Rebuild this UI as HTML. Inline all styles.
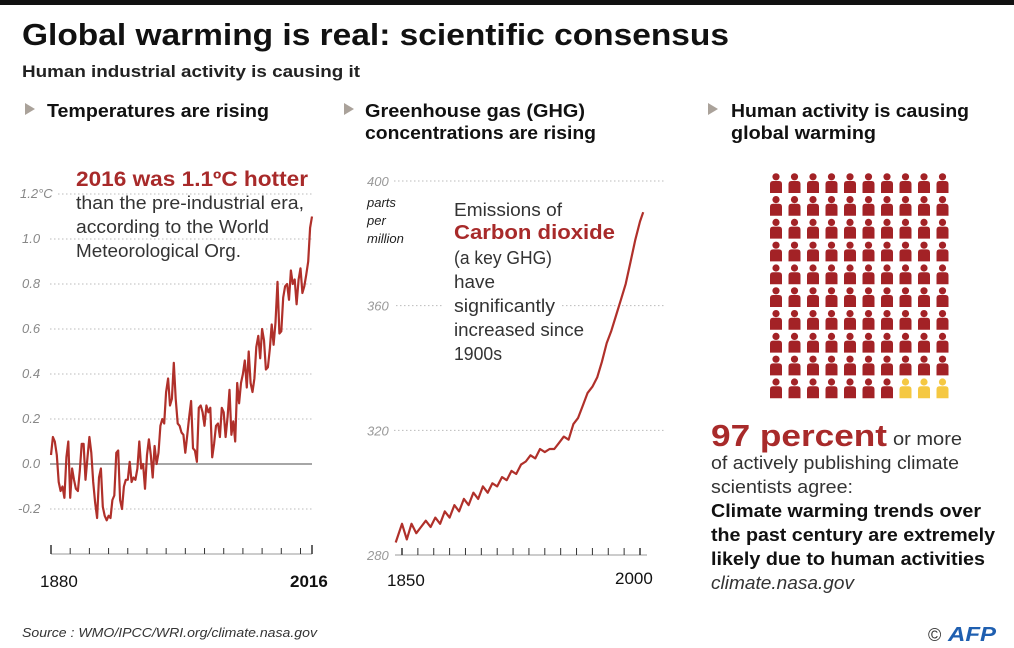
<!DOCTYPE html>
<html><head><meta charset="utf-8"><style>
html,body{margin:0;padding:0;background:#fff;}
svg{display:block;font-family:"Liberation Sans",sans-serif;}
</style></head><body>
<svg id="root" width="1014" height="648" viewBox="0 0 1014 648" xmlns="http://www.w3.org/2000/svg">
<rect x="0" y="0" width="1014" height="5" fill="#111"/>
<text x="22" y="45" font-size="31" font-weight="bold" fill="#111" textLength="707" lengthAdjust="spacingAndGlyphs">Global warming is real: scientific consensus</text>
<text x="22" y="77" font-size="17" font-weight="bold" fill="#222" textLength="338" lengthAdjust="spacingAndGlyphs">Human industrial activity is causing it</text>

<g>
<polygon points="25,103 35,109 25,115" fill="#aaa29a"/>
<text x="47" y="117" font-size="18" font-weight="bold" fill="#111" textLength="222" lengthAdjust="spacingAndGlyphs">Temperatures are rising</text>
</g>
<g>
<polygon points="344,103 354,109 344,115" fill="#aaa29a"/>
<text x="365" y="117" font-size="18" font-weight="bold" fill="#111" textLength="220" lengthAdjust="spacingAndGlyphs">Greenhouse gas (GHG)</text>
<text x="365" y="139" font-size="18" font-weight="bold" fill="#111" textLength="231" lengthAdjust="spacingAndGlyphs">concentrations are rising</text>
</g>
<g>
<polygon points="708,103 718,109 708,115" fill="#aaa29a"/>
<text x="731" y="117" font-size="18" font-weight="bold" fill="#111" textLength="238" lengthAdjust="spacingAndGlyphs">Human activity is causing</text>
<text x="731" y="139" font-size="18" font-weight="bold" fill="#111" textLength="145" lengthAdjust="spacingAndGlyphs">global warming</text>
</g>

<g id="tchart"></g>
<g id="cchart"></g>
<g id="icons"></g>

<g>
<text x="76" y="186" font-size="21" font-weight="bold" fill="#a82a2a" textLength="232" lengthAdjust="spacingAndGlyphs">2016 was 1.1ºC hotter</text>
<text x="76" y="209" font-size="18" fill="#333" textLength="228" lengthAdjust="spacingAndGlyphs">than the pre-industrial era,</text>
<text x="76" y="233" font-size="18" fill="#333" textLength="193" lengthAdjust="spacingAndGlyphs">according to the World</text>
<text x="76" y="257" font-size="18" fill="#333" textLength="165" lengthAdjust="spacingAndGlyphs">Meteorological Org.</text>
</g>
<g>
<text x="454" y="216" font-size="18" fill="#333" textLength="108" lengthAdjust="spacingAndGlyphs">Emissions of</text>
<text x="454" y="239" font-size="20" font-weight="bold" fill="#a82a2a" textLength="161" lengthAdjust="spacingAndGlyphs">Carbon dioxide</text>
<text x="454" y="264" font-size="18" fill="#333" textLength="98" lengthAdjust="spacingAndGlyphs">(a key GHG)</text>
<text x="454" y="288" font-size="18" fill="#333" textLength="41" lengthAdjust="spacingAndGlyphs">have</text>
<text x="454" y="312" font-size="18" fill="#333" textLength="101" lengthAdjust="spacingAndGlyphs">significantly</text>
<text x="454" y="336" font-size="18" fill="#333" textLength="130" lengthAdjust="spacingAndGlyphs">increased since</text>
<text x="454" y="360" font-size="18" fill="#333" textLength="48" lengthAdjust="spacingAndGlyphs">1900s</text>
</g>
<g font-style="italic" font-size="13" fill="#222">
<text x="367" y="207">parts</text>
<text x="367" y="225">per</text>
<text x="367" y="243">million</text>
</g>

<g>
<text x="711" y="446" font-size="31" font-weight="bold" fill="#a82a2a" textLength="176" lengthAdjust="spacingAndGlyphs">97 percent</text>
<text x="893" y="445" font-size="18" fill="#333" textLength="69" lengthAdjust="spacingAndGlyphs">or more</text>
<text x="711" y="469" font-size="18" fill="#333" textLength="248" lengthAdjust="spacingAndGlyphs">of actively publishing climate</text>
<text x="711" y="493" font-size="18" fill="#333" textLength="142" lengthAdjust="spacingAndGlyphs">scientists agree:</text>
<text x="711" y="517" font-size="18" font-weight="bold" fill="#111" textLength="270" lengthAdjust="spacingAndGlyphs">Climate warming trends over</text>
<text x="711" y="541" font-size="18" font-weight="bold" fill="#111" textLength="284" lengthAdjust="spacingAndGlyphs">the past century are extremely</text>
<text x="711" y="565" font-size="18" font-weight="bold" fill="#111" textLength="274" lengthAdjust="spacingAndGlyphs">likely due to human activities</text>
<text x="711" y="589" font-size="18" font-style="italic" fill="#333" textLength="143" lengthAdjust="spacingAndGlyphs">climate.nasa.gov</text>
</g>
<text x="22" y="637" font-size="13" font-style="italic" fill="#333" textLength="295" lengthAdjust="spacingAndGlyphs">Source : WMO/IPCC/WRI.org/climate.nasa.gov</text>
<g>
<text x="928" y="641" font-size="18" fill="#333">©</text>
<text x="948" y="641" font-size="20" font-weight="bold" font-style="italic" fill="#1f5fb0" textLength="48" lengthAdjust="spacingAndGlyphs">AFP</text>
</g>
</svg>
<script>
const NS="http://www.w3.org/2000/svg";
const tYears0=1880;
const tempValues=[0.04,0.12,0.10,0.04,-0.08,-0.12,-0.10,-0.15,0.03,0.10,-0.15,-0.02,-0.07,-0.11,-0.12,-0.03,0.09,0.09,-0.07,0.03,0.12,0.05,-0.08,-0.17,-0.24,-0.06,-0.02,-0.19,-0.23,-0.25,-0.23,-0.24,-0.16,-0.14,0.05,0.06,-0.16,-0.20,-0.10,-0.07,-0.07,0.01,-0.08,-0.06,-0.07,-0.02,0.10,-0.02,0.00,-0.11,0.04,0.11,0.04,-0.06,0.08,0.00,0.05,0.17,0.20,0.18,0.32,0.38,0.26,0.29,0.45,0.29,0.18,0.17,0.14,0.13,0.05,0.13,0.21,0.28,0.07,0.06,0.01,0.25,0.26,0.23,0.17,0.26,0.23,0.25,0.03,0.09,0.17,0.18,0.12,0.25,0.23,0.12,0.21,0.33,0.13,0.19,0.10,0.36,0.27,0.36,0.40,0.46,0.34,0.50,0.36,0.32,0.38,0.52,0.57,0.47,0.60,0.55,0.42,0.43,0.51,0.62,0.53,0.63,0.81,0.58,0.59,0.74,0.79,0.80,0.73,0.86,0.80,0.82,0.71,0.82,0.87,0.76,0.79,0.84,0.90,1.05,1.10];
const tTicks=[-0.2,0.0,0.2,0.4,0.6,0.8,1.0,1.2];
const tTickLabels=["-0.2","0.0","0.2","0.4","0.6","0.8","1.0","1.2°C"];
const co2Years=[1846,1850,1853,1856,1859,1862,1865,1868,1871,1874,1877,1880,1883,1886,1889,1892,1895,1898,1901,1904,1907,1910,1913,1916,1919,1922,1925,1928,1931,1934,1937,1940,1943,1946,1949,1952,1955,1958,1961,1964,1967,1970,1973,1976,1979,1982,1985,1988,1991,1994,1997,2000,2002];
const co2Values=[284,290,285,290,287,289,291,289,292,290,294,292,296,294,298,296,300,298,302,300,303,302,305,304,307,306,309,310,312,311,314,313,314,314,316,318,317,322,324,328,332,334,337,342,348,352,357,362,367,374,381,387,390];
const cTicks=[280,320,360,400];
const cTickLabels=["280","320","360","400"];

function mk(tag,attrs,parent){const e=document.createElementNS(NS,tag);for(const k in attrs)e.setAttribute(k,attrs[k]);parent.appendChild(e);return e;}

// Temperature chart
const tg=document.getElementById('tchart');
const tx=y=>51+(y-1880)*(261/136);
const ty=v=>464-v*225;
tTicks.forEach((v,i)=>{
  const lab=mk('text',{x:tTicks[i]===1.2?20:(v<0?18:22),y:ty(v)+4,'font-size':13,'font-style':'italic',fill:'#888'},tg);
  lab.textContent=tTickLabels[i];
  
  
  if(v!==0){const l=mk('line',{x1:v===1.2?58:50,x2:312,y1:ty(v),y2:ty(v),stroke:'#bbb','stroke-dasharray':'1.5 2.5'},tg);
  
  }
});
const zl=mk('line',{x1:50,x2:312,y1:ty(0),y2:ty(0),stroke:'#888','stroke-width':1.5},tg);


const tax=mk('line',{x1:51,x2:312,y1:554,y2:554,stroke:'#999','stroke-width':1},tg);


for(let y=1880;y<=2010;y+=10){const t=mk('line',{x1:tx(y),x2:tx(y),y1:y===1880?545:548,y2:554,stroke:'#333','stroke-width':y===1880?1.5:1},tg);

}
const te=mk('line',{x1:tx(2016),x2:tx(2016),y1:545,y2:554,stroke:'#333','stroke-width':1.5},tg);


const tl1=mk('text',{x:40,y:587,'font-size':17,fill:'#111'},tg);tl1.textContent='1880';


const tl2=mk('text',{x:290,y:587,'font-size':17,'font-weight':'bold',fill:'#111'},tg);tl2.textContent='2016';


const tp=mk('polyline',{points:tempValues.map((v,i)=>tx(tYears0+i).toFixed(1)+','+ty(v).toFixed(1)).join(' '),fill:'none',stroke:'#b0302a','stroke-width':2.2,'stroke-linejoin':'round'},tg);



// CO2 chart
const cg=document.getElementById('cchart');
const cx=y=>402+(y-1850)*(238/150);
const cy=v=>555-(v-280)*(374/120);
cTicks.forEach((v,i)=>{
  const lab=mk('text',{x:367,y:cy(v)+5,'font-size':13,'font-style':'italic',fill:'#999'},cg);
  lab.textContent=cTickLabels[i];
  
  
  if(v!==280){
    const segs=v===360?[[396,443],[562,664]]:[[394,664]];
    segs.forEach(s=>{const l=mk('line',{x1:s[0],x2:s[1],y1:cy(v),y2:cy(v),stroke:'#bbb','stroke-dasharray':'1.5 2.5'},cg);
    
    });
  }
});
const cax=mk('line',{x1:395,x2:647,y1:555,y2:555,stroke:'#999'},cg);


for(let y=1850;y<=2000;y+=10){const t=mk('line',{x1:cx(y),x2:cx(y),y1:548,y2:555,stroke:'#333','stroke-width':(y===1850||y===2000)?1.5:1},cg);

}
const cl1=mk('text',{x:387,y:586,'font-size':17,fill:'#111'},cg);cl1.textContent='1850';


const cl2=mk('text',{x:615,y:584,'font-size':17,fill:'#111'},cg);cl2.textContent='2000';


const cp=mk('polyline',{points:co2Values.map((v,i)=>cx(co2Years[i]).toFixed(1)+','+cy(v).toFixed(1)).join(' '),fill:'none',stroke:'#b0302a','stroke-width':2.2,'stroke-linejoin':'round'},cg);



// Icon grid
const ig=document.getElementById('icons');
const agreeCount=97;
for(let r=0;r<10;r++)for(let c=0;c<10;c++){
  const idx=r*10+c;
  const x=776+c*18.5, y=173+r*22.8;
  const col=idx<agreeCount?'#a32226':'#f5c842';
  const g=mk('g',{fill:col},ig);
  
  
  mk('circle',{cx:x,cy:y+3.8,r:3.6},g);
  mk('path',{d:`M${x-6},${y+20} L${x-6},${y+11} Q${x-6},${y+8} ${x-3},${y+8} L${x+3},${y+8} Q${x+6},${y+8} ${x+6},${y+11} L${x+6},${y+20} Z`},g);
}
</script>
</body></html>
